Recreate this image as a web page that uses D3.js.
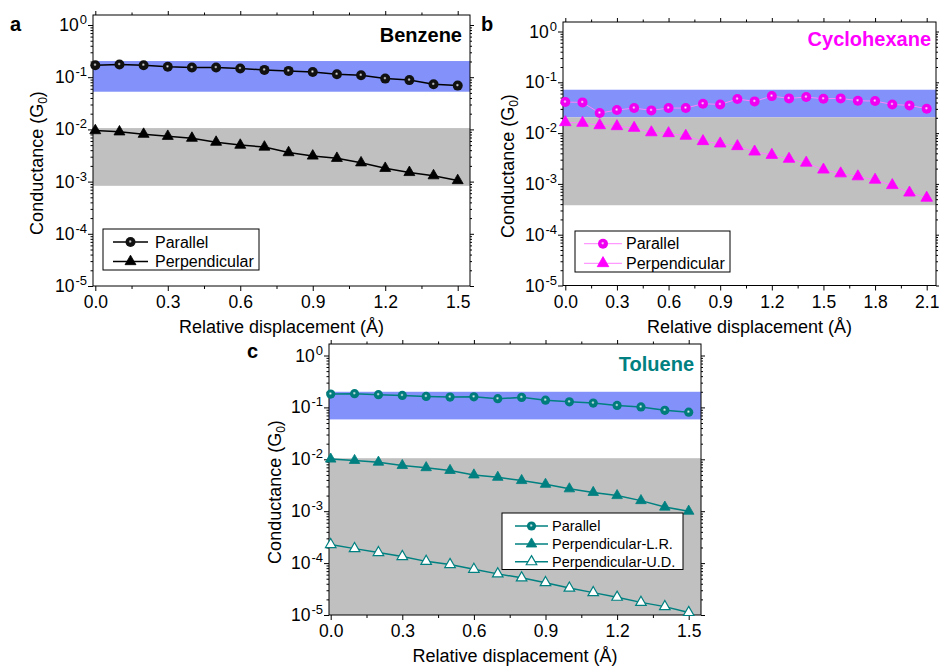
<!DOCTYPE html>
<html>
<head>
<meta charset="utf-8">
<script src="https://cdn.jsdelivr.net/npm/d3@7"></script>
<style>
  body { margin: 0; background: #fff; }
  svg text { font-family: "Liberation Sans", Arial, sans-serif; }
</style>
</head>
<body>
<div id="chart"></div>
<script>
// relative displacement (Angstrom)
var dispA = [0.0, 0.1, 0.2, 0.3, 0.4, 0.5, 0.6, 0.7, 0.8, 0.9, 1.0, 1.1, 1.2, 1.3, 1.4, 1.5];
var dispB = [0.0, 0.1, 0.2, 0.3, 0.4, 0.5, 0.6, 0.7, 0.8, 0.9, 1.0, 1.1, 1.2, 1.3, 1.4, 1.5, 1.6, 1.7, 1.8, 1.9, 2.0, 2.1];
var dispC = [0.0, 0.1, 0.2, 0.3, 0.4, 0.5, 0.6, 0.7, 0.8, 0.9, 1.0, 1.1, 1.2, 1.3, 1.4, 1.5];

// conductance (G0)
var benzenePar  = [0.170, 0.175, 0.170, 0.158, 0.153, 0.153, 0.147, 0.138, 0.132, 0.126, 0.114, 0.109, 0.094, 0.088, 0.073, 0.069];
var benzenePerp = [0.0095, 0.0090, 0.0081, 0.0074, 0.0068, 0.0057, 0.0050, 0.0046, 0.0036, 0.0031, 0.0028, 0.0023, 0.0018, 0.0015, 0.0013, 0.00105];
var cycloPar  = [0.0408, 0.0402, 0.0248, 0.0284, 0.0311, 0.0280, 0.0311, 0.0311, 0.0379, 0.0367, 0.0468, 0.0421, 0.0535, 0.0482, 0.0512, 0.0475, 0.0482, 0.0434, 0.0427, 0.0367, 0.0351, 0.0302];
var cycloPerp = [0.0163, 0.0158, 0.0142, 0.0136, 0.0126, 0.0103, 0.0099, 0.0088, 0.0069, 0.0062, 0.0055, 0.0043, 0.0037, 0.0031, 0.0026, 0.0019, 0.0016, 0.0014, 0.0012, 0.00094, 0.00067, 0.00053];
var toluenePar = [0.181, 0.184, 0.176, 0.170, 0.163, 0.158, 0.160, 0.147, 0.156, 0.138, 0.128, 0.121, 0.109, 0.102, 0.088, 0.081];
var tolueneLR  = [0.0101, 0.0095, 0.0088, 0.0076, 0.0069, 0.0061, 0.0050, 0.0045, 0.0039, 0.0033, 0.0027, 0.0023, 0.0020, 0.0016, 0.0012, 0.0010];
var tolueneUD  = [2.28e-4, 1.90e-4, 1.60e-4, 1.34e-4, 1.08e-4, 9.4e-5, 7.6e-5, 6.2e-5, 5.2e-5, 4.2e-5, 3.3e-5, 2.7e-5, 2.2e-5, 1.75e-5, 1.45e-5, 1.12e-5];

// shaded conductance ranges [high, low]
var bandsA = [[0.204, 0.0527], [0.0106, 0.00083]];
var bandsB = [[0.0714, 0.0204], [0.0204, 0.00038]];
var bandsC = [[0.200, 0.0587], [0.0105, 1e-5]];

// ticks
var decades = [1e-5, 1e-4, 1e-3, 1e-2, 1e-1, 1];
var xMajorA = [0.0, 0.3, 0.6, 0.9, 1.2, 1.5];
var xMinorA = [0.15, 0.45, 0.75, 1.05, 1.35];
var xMajorB = [0.0, 0.3, 0.6, 0.9, 1.2, 1.5, 1.8, 2.1];
var xMinorB = [0.15, 0.45, 0.75, 1.05, 1.35, 1.65, 1.95];

var BLUE = "#8392fa", GRAY = "#c0c0c0";
var MAG = "#ff00ff", TEAL = "#008080";

var svg = d3.select("#chart").append("svg").attr("width", 939).attr("height", 666);
var defs = svg.append("defs");

// small white glint drawn on top of the solid balls
var hl = defs.append("radialGradient").attr("id", "glint");
hl.append("stop").attr("offset", "0%").attr("stop-color", "#fff").attr("stop-opacity", 0.95);
hl.append("stop").attr("offset", "100%").attr("stop-color", "#fff").attr("stop-opacity", 0);

function drawMarker(g, kind, cx, cy, m) {
  if (kind === "ball") {
    g.append("circle").attr("cx", cx).attr("cy", cy).attr("r", m.r).attr("fill", m.ball);
    g.append("circle").attr("cx", cx - 0.3).attr("cy", cy - 0.5).attr("r", 1.8)
      .attr("fill", "url(#glint)");
  } else {
    g.append("path").attr("transform", "translate(" + cx + "," + cy + ")")
      .attr("d", d3.symbol(d3.symbolTriangle, m.tri)())
      .attr("fill", kind === "open" ? "#fff" : m.color)
      .attr("stroke", m.color).attr("stroke-width", kind === "open" ? 1.2 : 0.8);
  }
}

function drawPanel(p) {
  var g = svg.append("g");
  var x = d3.scaleLinear().domain([0, p.xMax]).range([p.x0, p.x1]);
  var y = d3.scaleLog().domain([1e-5, 1]).range([p.y5, p.y0]);
  var yTop = y.invert(p.top);
  var yFull = d3.scaleLog().domain([1e-5, yTop]).range([p.y5, p.top]);
  var minors = yFull.ticks().filter(function (v) {
    return Math.abs(Math.log10(v) - Math.round(Math.log10(v))) > 1e-6;
  });

  // shaded ranges
  p.bands.forEach(function (b, i) {
    g.append("rect").attr("x", p.left).attr("width", p.right - p.left)
      .attr("y", y(b[0])).attr("height", y(b[1]) - y(b[0]))
      .attr("fill", i === 0 ? BLUE : GRAY);
  });

  // axes ticks
  function tickG(axis, tx, ty) {
    var a = g.append("g").attr("transform", "translate(" + tx + "," + ty + ")").call(axis);
    a.select(".domain").remove();
    a.selectAll("line").attr("stroke", "#000").attr("stroke-width", 1);
    return a;
  }
  var xb = tickG(d3.axisBottom(x).tickValues(p.xMajor).tickSize(5).tickPadding(5)
    .tickFormat(d3.format(".1f")), 0, p.bottom);
  xb.attr("font-family", null).attr("font-size", null);
  xb.selectAll("text").attr("font-size", 17.5).attr("fill", "#000");
  tickG(d3.axisBottom(x).tickValues(p.xMinor).tickSize(3).tickFormat(""), 0, p.bottom);
  tickG(d3.axisTop(x).tickValues(p.xMajor).tickSize(4).tickFormat(""), 0, p.top);
  tickG(d3.axisTop(x).tickValues(p.xMinor).tickSize(2.5).tickFormat(""), 0, p.top);
  tickG(d3.axisLeft(y).tickValues(decades).tickSize(5).tickFormat(""), p.left, 0);
  tickG(d3.axisLeft(yFull).tickValues(minors).tickSize(2.5).tickFormat(""), p.left, 0);
  tickG(d3.axisRight(y).tickValues(decades).tickSize(4).tickFormat(""), p.right, 0);
  tickG(d3.axisRight(yFull).tickValues(minors).tickSize(2).tickFormat(""), p.right, 0);

  // decade labels
  decades.forEach(function (d) {
    var t = g.append("text").attr("x", p.left - 6).attr("y", y(d) + 6)
      .attr("text-anchor", "end").attr("font-size", 17.5);
    t.append("tspan").text("10");
    t.append("tspan").attr("font-size", 13).attr("dx", 1).attr("dy", -7).text(String(Math.round(Math.log10(d))));
  });

  // frame
  g.append("rect").attr("x", p.left).attr("y", p.top)
    .attr("width", p.right - p.left).attr("height", p.bottom - p.top)
    .attr("fill", "none").attr("stroke", "#000").attr("stroke-width", 1);

  // series
  var line = d3.line().x(function (d) { return x(d[0]); }).y(function (d) { return y(d[1]); });
  p.series.forEach(function (s) {
    var pts = p.disp.map(function (v, i) { return [v, s.values[i]]; });
    g.append("path").datum(pts).attr("d", line).attr("fill", "none")
      .attr("stroke", p.lineColor).attr("stroke-width", p.lineWidth);
    var mg = g.append("g");
    pts.forEach(function (d) { drawMarker(mg, s.kind, x(d[0]), y(d[1]), p.m); });
  });

  // legend
  var L = p.legend;
  g.append("rect").attr("x", L.box[0]).attr("y", L.box[1])
    .attr("width", L.box[2] - L.box[0]).attr("height", L.box[3] - L.box[1])
    .attr("fill", "#fff").attr("stroke", "#000").attr("stroke-width", 1);
  p.series.forEach(function (s, i) {
    var ry = L.rows[i];
    g.append("line").attr("x1", L.line[0]).attr("x2", L.line[1]).attr("y1", ry).attr("y2", ry)
      .attr("stroke", p.lineColor).attr("stroke-width", p.lineWidth);
    drawMarker(g, s.kind, (L.line[0] + L.line[1]) / 2, ry, p.m);
    g.append("text").attr("x", L.textX).attr("y", ry + L.font * 0.36)
      .attr("font-size", L.font).text(s.name);
  });

  // titles
  g.append("text").attr("x", p.title.x).attr("y", p.title.y).attr("text-anchor", "end")
    .attr("font-size", 20).attr("font-weight", "bold").attr("fill", p.title.color).text(p.title.text);
  g.append("text").attr("x", p.letter[0]).attr("y", p.letter[1])
    .attr("font-size", 20).attr("font-weight", "bold").text(p.letter[2]);
  g.append("text").attr("x", (p.left + p.right) / 2).attr("y", p.xTitleY)
    .attr("text-anchor", "middle").attr("font-size", 18).text("Relative displacement (\u00c5)");
  var yt = g.append("text").attr("transform", "translate(" + p.yTitle[0] + "," + p.yTitle[1] + ") rotate(-90)")
    .attr("text-anchor", "middle").attr("font-size", 18);
  yt.append("tspan").text("Conductance (G");
  yt.append("tspan").attr("font-size", 12).attr("dy", 4).text("0");
  yt.append("tspan").attr("dy", -4).text(")");
}

drawPanel({
  left: 93, right: 470, top: 15, bottom: 286,
  xMax: 1.5, x0: 95.3, x1: 457.7, y5: 286, y0: 25,
  xMajor: xMajorA, xMinor: xMinorA, bands: bandsA, disp: dispA,
  lineColor: "#000", lineWidth: 1.5,
  m: { r: 5, ball: "#111", color: "#000", tri: 52 },
  series: [
    { name: "Parallel", values: benzenePar, kind: "ball" },
    { name: "Perpendicular", values: benzenePerp, kind: "tri" }
  ],
  legend: { box: [103, 229, 259, 270], rows: [242, 261.5], line: [113, 148], textX: 155, font: 16 },
  title: { text: "Benzene", x: 462, y: 42, color: "#000" },
  letter: [10, 31, "a"], xTitleY: 333, yTitle: [43, 163]
});

drawPanel({
  left: 563, right: 936, top: 22, bottom: 285.5,
  xMax: 2.1, x0: 565.3, x1: 926.7, y5: 285.5, y0: 31.5,
  xMajor: xMajorB, xMinor: xMinorB, bands: bandsB, disp: dispB,
  lineColor: "#ff80ff", lineWidth: 1,
  m: { r: 5, ball: "#f000f0", color: MAG, tri: 58 },
  series: [
    { name: "Parallel", values: cycloPar, kind: "ball" },
    { name: "Perpendicular", values: cycloPerp, kind: "tri" }
  ],
  legend: { box: [575, 231, 730, 272], rows: [243.7, 263.3], line: [584, 622], textX: 626, font: 16 },
  title: { text: "Cyclohexane", x: 931, y: 46, color: MAG },
  letter: [481, 31, "b"], xTitleY: 333, yTitle: [514, 166]
});

drawPanel({
  left: 329, right: 701, top: 344, bottom: 615,
  xMax: 1.5, x0: 330.7, x1: 688.7, y5: 615, y0: 355.5,
  xMajor: xMajorA, xMinor: xMinorA, bands: bandsC, disp: dispC,
  lineColor: TEAL, lineWidth: 1.5,
  m: { r: 4.6, ball: "#007c7c", color: TEAL, tri: 48 },
  series: [
    { name: "Parallel", values: toluenePar, kind: "ball" },
    { name: "Perpendicular-L.R.", values: tolueneLR, kind: "tri" },
    { name: "Perpendicular-U.D.", values: tolueneUD, kind: "open" }
  ],
  legend: { box: [502, 513, 683, 569.5], rows: [526, 544, 561.7], line: [515, 548], textX: 552, font: 14.5 },
  title: { text: "Toluene", x: 694, y: 371, color: TEAL },
  letter: [247, 358, "c"], xTitleY: 662, yTitle: [281, 492]
});
</script>
</body>
</html>
